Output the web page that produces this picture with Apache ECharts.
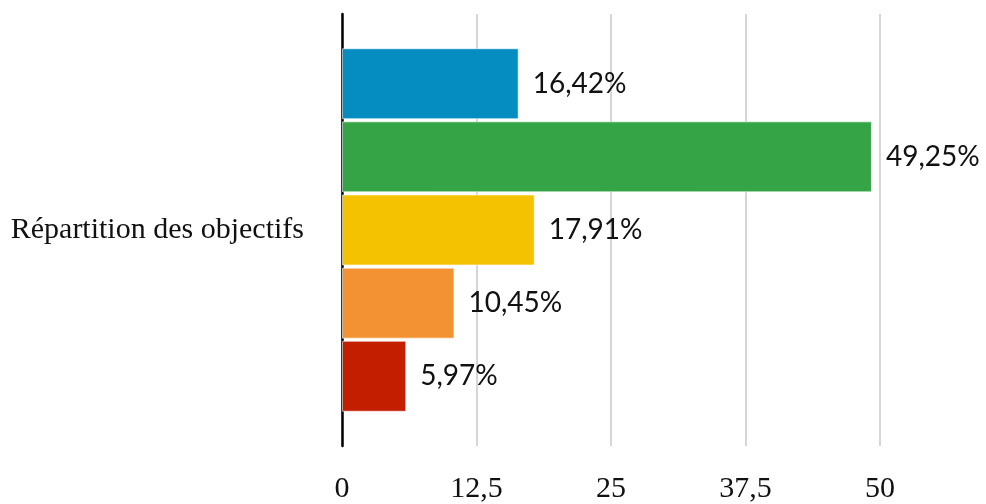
<!DOCTYPE html>
<html>
<head>
<meta charset="utf-8">
<script src="https://cdn.jsdelivr.net/npm/echarts@6/dist/echarts.min.js"></script>
<style>
html,body{margin:0;padding:0;background:#fff;}
#main{width:986px;height:504px;}
</style>
</head>
<body>
<div id="main"></div>
<script>
const categories = ['Répartition des objectifs'];
const seriesNames = ['A', 'B', 'C', 'D', 'E'];
const seriesValues = [16.42, 49.25, 17.91, 10.45, 5.97];
const seriesColors = ['#058dc1', '#34a447', '#f4c200', '#f29232', '#c41e00'];
const xTicks = [0, 12.5, 25, 37.5, 50];

const chart = echarts.init(document.getElementById('main'));
const fmt = v => String(v).replace('.', ',');

const series = seriesNames.map((name, i) => ({
  name: name,
  type: 'bar',
  data: [seriesValues[i]],
  barWidth: 71,
  barGap: '3%',
  itemStyle: { color: seriesColors[i], borderColor: 'rgba(255,255,255,0.6)', borderWidth: 1 },
  label: {
    show: true,
    position: 'right',
    distance: 14,
    formatter: p => fmt(p.value.toFixed(2)) + '%',
    fontFamily: 'Lato',
    fontSize: 28,
    color: '#111'
  }
}));

chart.setOption({
  animation: false,
  grid: { left: 342, right: 106, top: 14, bottom: 52, containLabel: false },
  xAxis: {
    type: 'value',
    min: 0, max: 50, interval: 12.5,
    axisLine: { show: false },
    axisTick: { show: false },
    splitLine: { show: true, lineStyle: { color: '#c8c8c8', width: 1.5 } },
    axisLabel: {
      margin: 28,
      formatter: v => fmt(v),
      fontFamily: 'Liberation Serif',
      fontSize: 30,
      color: '#111'
    }
  },
  yAxis: {
    type: 'category',
    inverse: true,
    data: categories,
    axisLine: { show: true, lineStyle: { color: '#000', width: 2.5 } },
    axisTick: { show: false },
    axisLabel: {
      margin: 38,
      fontFamily: 'Liberation Serif',
      fontSize: 30,
      color: '#111'
    }
  },
  series: series
});
</script>
</body>
</html>
